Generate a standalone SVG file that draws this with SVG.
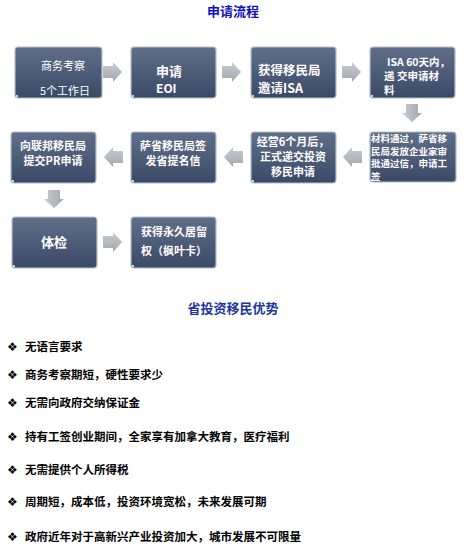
<svg xmlns="http://www.w3.org/2000/svg" width="468" height="555" viewBox="0 0 468 555">
<defs>
<linearGradient id="bx" x1="0" y1="0" x2="0" y2="1">
<stop offset="0" stop-color="#606f89"/>
<stop offset="1" stop-color="#3a4966"/>
</linearGradient>
<linearGradient id="ar" x1="0" y1="0" x2="0" y2="1">
<stop offset="0" stop-color="#c9ccd2"/>
<stop offset="1" stop-color="#a2a7ae"/>
</linearGradient>
<linearGradient id="arv" x1="0" y1="0" x2="1" y2="0">
<stop offset="0" stop-color="#c9ccd2"/>
<stop offset="1" stop-color="#a2a7ae"/>
</linearGradient>
<path id="ra" d="M0,-6 H10 V-10 L19,0 L10,10 V6 H0 Z"/>
<path id="da" d="M-6,0 V9 H-10 L0,18 L10,9 H6 V0 Z"/>
</defs>
<style>
.box{fill:url(#bx);stroke:#b4bfcd;stroke-width:1.2}
.t{font-family:"Noto Sans CJK SC","Liberation Sans",sans-serif;fill:#fff}
.b{font-family:"Noto Sans CJK SC","Liberation Sans",sans-serif;fill:#000;font-weight:bold;font-size:11.5px}
.d{font-family:"DejaVu Sans",sans-serif;fill:#000;font-size:12px}
.h{font-family:"Noto Sans CJK SC",sans-serif;font-weight:bold;font-size:13px;text-anchor:middle}
.dot{fill:#fff}
</style>
<rect width="468" height="555" fill="#fff"/>
<text class="h" x="233" y="16" fill="#1010c0">申请流程</text>

<g id="connectors">
<use href="#ra" x="103" y="72" fill="url(#ar)"/>
<use href="#ra" x="222" y="72" fill="url(#ar)"/>
<use href="#ra" x="342" y="72" fill="url(#ar)"/>
<use href="#da" x="412" y="104" fill="url(#arv)"/>
<use href="#ra" transform="translate(362,157) scale(-1,1)" fill="url(#ar)"/>
<use href="#ra" transform="translate(243,157) scale(-1,1)" fill="url(#ar)"/>
<use href="#ra" transform="translate(123,157) scale(-1,1)" fill="url(#ar)"/>
<use href="#da" x="54" y="190" fill="url(#arv)"/>
<use href="#ra" x="103" y="242" fill="url(#ar)"/>
</g>

<g id="n1"><rect class="box" x="15" y="47" width="87" height="51" rx="3"/><circle class="dot" cx="17" cy="96" r="1"/>
<text class="t" font-size="11" text-anchor="middle" x="63" y="70">商务考察</text>
<text class="t" font-size="11" text-anchor="middle" x="65" y="95">5个工作日</text></g>

<g id="n2"><rect class="box" x="131" y="47" width="85" height="51" rx="3"/><circle class="dot" cx="133" cy="96" r="1"/>
<text class="t" font-size="13" font-weight="bold" x="156" y="76">申请</text>
<text class="t" font-size="12" font-weight="bold" x="156" y="93">EOI</text></g>

<g id="n3"><rect class="box" x="251" y="47" width="85" height="51" rx="3"/><circle class="dot" cx="253" cy="96" r="1"/>
<text class="t" font-size="12.5" font-weight="bold" x="258" y="75">获得移民局</text>
<text class="t" font-size="12.5" font-weight="bold" x="258" y="93">邀请ISA</text></g>

<g id="n4"><rect class="box" x="370" y="47" width="85" height="51" rx="3"/><circle class="dot" cx="372" cy="96" r="1"/>
<text class="t" font-size="10.5" font-weight="bold" x="387" y="66">ISA 60天内，</text>
<text class="t" font-size="10.5" font-weight="bold" x="384" y="80">递 交申请材</text>
<text class="t" font-size="10.5" font-weight="bold" x="384" y="94">料</text></g>

<g id="n8"><rect class="box" x="370" y="132" width="86" height="50" rx="3"/><circle class="dot" cx="372" cy="180" r="1"/>
<text class="t" font-size="9.5" font-weight="bold" x="371" y="142">材料通过，萨省移</text>
<text class="t" font-size="9.5" font-weight="bold" x="371" y="154.5">民局发放企业家审</text>
<text class="t" font-size="9.5" font-weight="bold" x="371" y="167">批通过信，申请工</text>
<text class="t" font-size="9.5" font-weight="bold" x="371" y="179.5">签</text></g>

<g id="n7"><rect class="box" x="251" y="132" width="85" height="51" rx="3"/><circle class="dot" cx="253" cy="181" r="1"/>
<text class="t" font-size="11" font-weight="bold" text-anchor="middle" x="293" y="146">经营6个月后，</text>
<text class="t" font-size="11" font-weight="bold" text-anchor="middle" x="293" y="161">正式递交投资</text>
<text class="t" font-size="11" font-weight="bold" text-anchor="middle" x="293" y="176">移民申请</text></g>

<g id="n6"><rect class="box" x="131" y="132" width="85" height="51" rx="3"/><circle class="dot" cx="133" cy="181" r="1"/>
<text class="t" font-size="11" font-weight="bold" text-anchor="middle" x="173" y="150">萨省移民局签</text>
<text class="t" font-size="11" font-weight="bold" text-anchor="middle" x="173" y="165">发省提名信</text></g>

<g id="n5"><rect class="box" x="11" y="132" width="85" height="51" rx="3"/><circle class="dot" cx="13" cy="181" r="1"/>
<text class="t" font-size="11" font-weight="bold" text-anchor="middle" x="53" y="150">向联邦移民局</text>
<text class="t" font-size="11" font-weight="bold" text-anchor="middle" x="53" y="165">提交PR申请</text></g>

<g id="n9"><rect class="box" x="12" y="217" width="85" height="51" rx="3"/><circle class="dot" cx="14" cy="266" r="1"/>
<text class="t" font-size="13" font-weight="bold" text-anchor="middle" x="54" y="247">体检</text></g>

<g id="n10"><rect class="box" x="131" y="217" width="85" height="51" rx="3"/><circle class="dot" cx="133" cy="266" r="1"/>
<text class="t" font-size="11" font-weight="bold" x="141" y="236">获得永久居留</text>
<text class="t" font-size="11" font-weight="bold" x="141" y="255">权（枫叶卡）</text></g>

<text class="h" x="233" y="313" fill="#1c35a0" style="font-weight:600">省投资移民优势</text>

<g id="list">
<text class="d" x="7" y="351">❖</text><text class="b" x="25" y="351">无语言要求</text>
<text class="d" x="7" y="379">❖</text><text class="b" x="25" y="379">商务考察期短，硬性要求少</text>
<text class="d" x="7" y="407">❖</text><text class="b" x="25" y="407">无需向政府交纳保证金</text>
<text class="d" x="7" y="441">❖</text><text class="b" x="25" y="441">持有工签创业期间，全家享有加拿大教育，医疗福利</text>
<text class="d" x="7" y="474">❖</text><text class="b" x="25" y="474">无需提供个人所得税</text>
<text class="d" x="7" y="506">❖</text><text class="b" x="25" y="506">周期短，成本低，投资环境宽松，未来发展可期</text>
<text class="d" x="7" y="541">❖</text><text class="b" x="25" y="541">政府近年对于高新兴产业投资加大，城市发展不可限量</text>
</g>
</svg>
